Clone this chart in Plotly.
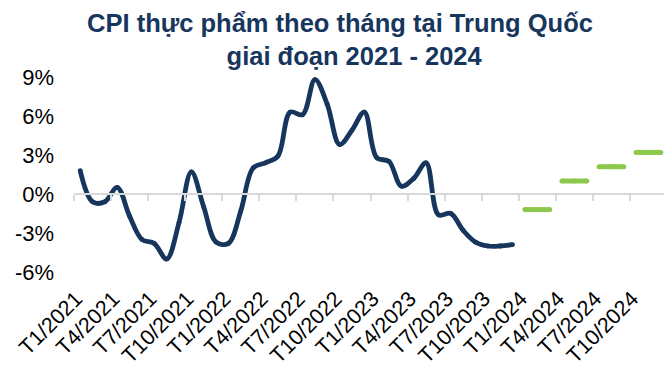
import plotly.graph_objects as go

# ---------------- data ----------------
tick_labels = ["T1/2021", "T4/2021", "T7/2021", "T10/2021",
               "T1/2022", "T4/2022", "T7/2022", "T10/2022",
               "T1/2023", "T4/2023", "T7/2023", "T10/2023",
               "T1/2024", "T4/2024", "T7/2024", "T10/2024"]
n_months = 48  # monthly categories T1/2021 .. T12/2024

# monthly food CPI (% y/y), actual
actual_values = [1.8, -0.6, -0.6, 0.5, -1.7, -3.5, -3.8, -5.0, -2.2, 1.7,
                 -1.0, -3.7, -3.8, -1.3, 2.0, 2.4, 2.9, 6.3, 6.1, 8.8,
                 6.9, 3.8, 4.9, 6.3, 2.8, 2.5, 0.6, 1.2, 2.4, -1.6,
                 -1.5, -2.8, -3.7, -4.0, -4.0, -3.9]

# quarterly forecasts for 2024
forecast_quarters = ["Q1/2024", "Q2/2024", "Q3/2024", "Q4/2024"]
forecast_values = [-1.2, 1.0, 2.1, 3.2]
forecast_start = 36

y_ticks = [-6, -3, 0, 3, 6, 9]
y_min, y_max = -6, 9

title_line1 = "CPI thực phẩm theo tháng tại Trung Quốc"
title_line2 = "giai đoạn 2021 - 2024"

navy = "#17365d"
green = "#8cc84b"
axis_grey = "#d9d9d9"
font_family = "Liberation Sans, Arial, sans-serif"

# ---------------- build ----------------
actual_x = list(range(len(actual_values)))

fx, fy = [], []
for q, v in enumerate(forecast_values):
    for m in range(3):
        fx.append(forecast_start + 3 * q + m)
        fy.append(v)
    fx.append(None)
    fy.append(None)

fig = go.Figure()
fig.add_trace(go.Scatter(
    x=actual_x, y=actual_values, mode="lines+markers",
    line=dict(color=navy, width=4.8, shape="spline", smoothing=1.0),
    marker=dict(color=navy, size=4.8),
    xaxis="x", yaxis="y", hoverinfo="skip", showlegend=False))
fig.add_trace(go.Scatter(
    x=fx, y=fy, mode="lines+markers",
    line=dict(color=green, width=5),
    marker=dict(color=green, size=5),
    connectgaps=False,
    xaxis="x2", yaxis="y", hoverinfo="skip", showlegend=False))

x_range = [-0.5, n_months - 0.5]
boundaries = [i - 0.5 for i in range(0, n_months + 1, 3)]
label_pos = list(range(0, n_months, 3))
zero_pos = (0 - y_min) / (y_max - y_min)

# the page body adds an 8px offset, so the figure is sized 8px smaller
fig.update_layout(
    width=664, height=361,
    margin=dict(l=66, r=5, t=69, b=97, autoexpand=False),
    paper_bgcolor="white", plot_bgcolor="white",
    font=dict(family=font_family, color="#000000"),
    title=dict(
        text="<b>" + title_line1 + "<br>" + "\u00a0" * 4 + title_line2 + "</b>",
        x=0.5, xref="container", xanchor="center",
        y=0.934, yref="container", yanchor="top",
        font=dict(family=font_family, size=25.5, color=navy)),
    xaxis=dict(
        range=x_range, anchor="free", position=zero_pos, automargin=False,
        tickmode="array", tickvals=boundaries, showticklabels=False,
        ticks="outside", ticklen=6, tickwidth=2, tickcolor=axis_grey,
        showline=True, linecolor=axis_grey, linewidth=2,
        showgrid=False, zeroline=False, fixedrange=True),
    xaxis2=dict(
        range=x_range, overlaying="x", anchor="y", side="bottom",
        automargin=False,
        tickmode="array", tickvals=label_pos, ticktext=tick_labels,
        tickangle=-45, ticks="", showline=False, showgrid=False,
        ticklabelstandoff=9, ticklabelshift=-4,
        zeroline=False, tickfont=dict(size=21.5, color="#000000")),
    yaxis=dict(
        range=[y_min, y_max], tickmode="array", tickvals=y_ticks,
        ticktext=[f"{v}%" for v in y_ticks], ticks="", automargin=False,
        showline=False, showgrid=False, zeroline=False,
        ticklabelstandoff=19, tickfont=dict(size=22, color="#000000")),
)

fig.write_html("out.html")
